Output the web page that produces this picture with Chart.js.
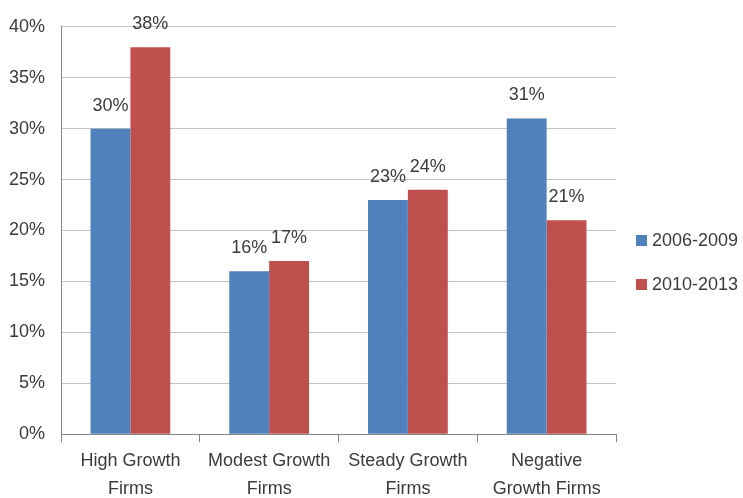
<!DOCTYPE html>
<html>
<head>
<meta charset="utf-8">
<script src="https://cdn.jsdelivr.net/npm/chart.js@4/dist/chart.umd.min.js"></script>
<style>
  html, body { margin: 0; padding: 0; background: #fff; }
  #wrap { width: 743px; height: 498px; position: relative; }
</style>
</head>
<body>
<div id="wrap"><canvas id="c" width="743" height="498"></canvas></div>
<script>
const categories = [["High Growth", "Firms"], ["Modest Growth", "Firms"], ["Steady Growth", "Firms"], ["Negative", "Growth Firms"]];
const seriesNames = ["2006-2009", "2010-2013"];
const series2006_2009 = [30, 16, 23, 31];
const series2010_2013 = [38, 17, 24, 21];
const yTicks = [0, 5, 10, 15, 20, 25, 30, 35, 40];

const BLUE = '#4F81BD';
const RED = '#C0504D';
const TEXT = '#3b3b3b';
const FONT = "'Liberation Sans', Arial, sans-serif";

const valueLabels = {
  id: 'valueLabels',
  afterDatasetsDraw(chart) {
    const ctx = chart.ctx;
    ctx.save();
    ctx.font = '18px ' + FONT;
    ctx.fillStyle = TEXT;
    ctx.textAlign = 'center';
    ctx.textBaseline = 'middle';
    chart.data.datasets.forEach((ds, i) => {
      const meta = chart.getDatasetMeta(i);
      meta.data.forEach((bar, j) => {
        ctx.fillText(ds.data[j] + '%', bar.x, bar.y - 23);
      });
    });
    ctx.restore();
  }
};

const sideLegend = {
  id: 'sideLegend',
  afterDraw(chart) {
    const ctx = chart.ctx;
    ctx.save();
    ctx.font = '18px ' + FONT;
    ctx.textBaseline = 'middle';
    ctx.textAlign = 'left';
    const ys = [240, 284];
    chart.data.datasets.forEach((ds, i) => {
      ctx.fillStyle = ds.backgroundColor;
      ctx.fillRect(636, ys[i] - 5, 11, 11);
      ctx.fillStyle = TEXT;
      ctx.fillText(ds.label, 652, ys[i] + 1);
    });
    ctx.restore();
  }
};

new Chart(document.getElementById('c'), {
  type: 'bar',
  data: {
    labels: categories,
    datasets: [
      { label: seriesNames[0], data: series2006_2009, backgroundColor: BLUE },
      { label: seriesNames[1], data: series2010_2013, backgroundColor: RED }
    ]
  },
  options: {
    responsive: false,
    animation: false,
    devicePixelRatio: 1,
    layout: { padding: { left: -7, right: 127, top: 16, bottom: -10 } },
    datasets: { bar: { barPercentage: 1.0, categoryPercentage: 0.575 } },
    plugins: {
      legend: { display: false },
      tooltip: { enabled: false }
    },
    scales: {
      x: {
        grid: { display: true, drawOnChartArea: false, drawTicks: true, tickLength: 8, color: '#868686', offset: true },
        border: { color: '#868686', width: 1 },
        ticks: { color: TEXT, font: { family: FONT, size: 18, lineHeight: 1.55 }, padding: 5, maxRotation: 0, autoSkip: false }
      },
      y: {
        min: 0, max: 40,
        afterBuildTicks(axis) { axis.ticks = yTicks.map(v => ({ value: v })); },
        grid: { color: '#c4c4c4', drawTicks: false, lineWidth: 1 },
        border: { color: '#868686', width: 1 },
        ticks: { color: TEXT, font: { family: FONT, size: 18 }, padding: 16, callback: v => v + '%' }
      }
    }
  },
  plugins: [valueLabels, sideLegend]
});
</script>
</body>
</html>
